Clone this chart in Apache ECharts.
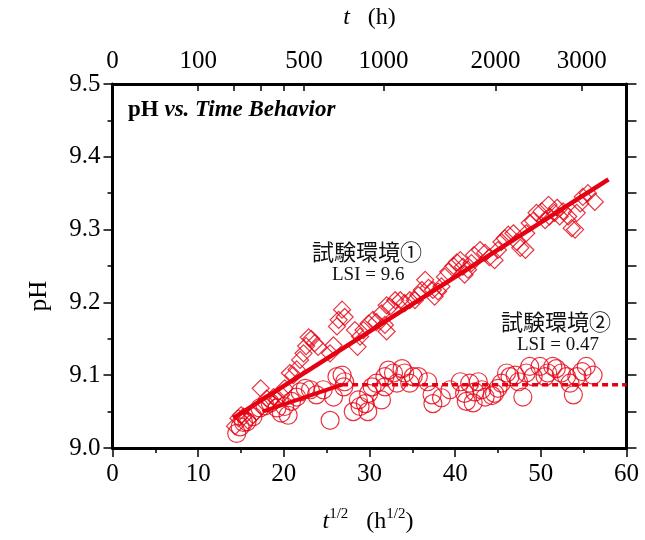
<!DOCTYPE html>
<html>
<head>
<meta charset="utf-8">
<script src="https://cdn.jsdelivr.net/npm/echarts@6/dist/echarts.min.js"></script>
<style>
  html, body { margin: 0; padding: 0; background: #ffffff; }
  #chart { width: 645px; height: 540px; }
</style>
</head>
<body>
<div id="chart"></div>
<script>
// pH readings against square root of elapsed time (h^1/2)
// Test environment 1 (LSI = 9.6), open diamonds
const env1Points = [
  [14.3, 9.030], [14.7, 9.041], [15.0, 9.045], [15.3, 9.043], [15.8, 9.038],
  [16.4, 9.045], [16.8, 9.050], [17.3, 9.082], [18.0, 9.068], [18.4, 9.064],
  [18.8, 9.070], [19.2, 9.066], [19.7, 9.073], [20.1, 9.082], [20.7, 9.103],
  [21.1, 9.100], [21.5, 9.108], [21.9, 9.121], [22.3, 9.130], [22.6, 9.140],
  [22.9, 9.152], [23.2, 9.150], [23.6, 9.144], [24.0, 9.139], [25.4, 9.130],
  [25.8, 9.141], [26.2, 9.167], [26.4, 9.176], [26.8, 9.190], [27.1, 9.180],
  [28.3, 9.162], [28.6, 9.139], [28.9, 9.153], [29.3, 9.162], [29.9, 9.171],
  [30.4, 9.176], [30.8, 9.173], [31.4, 9.185], [31.8, 9.169], [32.0, 9.160],
  [32.0, 9.196], [32.4, 9.194], [33.0, 9.203], [33.6, 9.203], [34.1, 9.199],
  [34.7, 9.203], [35.3, 9.203], [35.7, 9.210], [36.1, 9.217], [36.5, 9.231],
  [36.9, 9.220], [37.4, 9.217], [37.6, 9.208], [38.0, 9.215], [38.4, 9.222],
  [38.8, 9.235], [39.2, 9.242], [39.8, 9.250], [40.2, 9.255], [40.6, 9.258],
  [40.9, 9.249], [41.1, 9.238], [41.5, 9.245], [41.9, 9.254], [42.2, 9.265],
  [42.9, 9.272], [43.5, 9.268], [44.0, 9.262], [44.6, 9.258], [45.0, 9.272],
  [45.4, 9.283], [45.8, 9.288], [46.2, 9.293], [46.8, 9.295], [47.2, 9.283],
  [47.6, 9.275], [48.2, 9.272], [48.3, 9.295], [48.7, 9.309], [49.1, 9.312],
  [49.5, 9.323], [50.1, 9.325], [50.5, 9.313], [50.9, 9.334], [51.0, 9.318],
  [51.6, 9.323], [51.9, 9.330], [52.2, 9.318], [52.6, 9.325], [53.2, 9.318],
  [53.6, 9.302], [54.0, 9.300], [54.2, 9.323], [54.6, 9.336], [54.9, 9.345],
  [55.5, 9.350], [56.3, 9.338]
];

// Test environment 2 (LSI = 0.47), open circles
const env2Points = [
  [14.5, 9.020], [14.9, 9.029], [15.3, 9.035], [15.7, 9.036], [16.4, 9.043],
  [17.2, 9.055], [17.8, 9.058], [18.4, 9.062], [19.2, 9.055], [19.7, 9.048],
  [20.1, 9.057], [20.5, 9.045], [20.9, 9.064], [21.5, 9.070], [21.9, 9.077],
  [22.5, 9.082], [23.1, 9.080], [23.8, 9.073], [24.6, 9.080], [25.4, 9.038],
  [25.8, 9.070], [26.2, 9.098], [26.8, 9.100], [27.0, 9.084], [27.1, 9.091],
  [28.1, 9.050], [28.7, 9.066], [28.9, 9.057], [29.5, 9.061], [29.8, 9.050],
  [29.9, 9.075], [30.3, 9.084], [30.8, 9.089], [31.4, 9.066], [31.8, 9.098],
  [31.8, 9.084], [32.2, 9.107], [32.8, 9.103], [33.2, 9.089], [33.8, 9.109],
  [34.1, 9.103], [34.7, 9.089], [35.1, 9.098], [35.7, 9.098], [36.8, 9.091],
  [37.3, 9.073], [37.4, 9.061], [38.4, 9.069], [39.4, 9.080], [40.6, 9.091],
  [41.1, 9.075], [41.3, 9.064], [41.7, 9.089], [42.1, 9.062], [42.3, 9.077],
  [42.7, 9.091], [43.1, 9.080], [43.5, 9.070], [44.3, 9.072], [44.6, 9.075],
  [45.0, 9.082], [45.4, 9.089], [46.0, 9.103], [46.4, 9.098], [47.0, 9.100],
  [47.4, 9.091], [47.9, 9.070], [48.3, 9.103], [48.7, 9.112], [49.1, 9.098],
  [49.9, 9.112], [50.5, 9.098], [50.8, 9.103], [51.4, 9.112], [51.8, 9.109],
  [52.4, 9.103], [53.0, 9.098], [53.4, 9.089], [53.8, 9.073], [54.2, 9.098],
  [54.8, 9.105], [55.3, 9.112], [56.1, 9.100]
];

// Trend lines
const env1Trend = [[14.1, 9.041], [57.9, 9.369]];
const env2TrendRise = [[17.5, 9.050], [22.5, 9.070], [26.8, 9.087]];
const env2TrendFlat = [[26.8, 9.087], [60.0, 9.087]];

// Top axis: elapsed hours, placed at sqrt(t)
const topTickHours = [0, 100, 200, 300, 400, 500, 1000, 2000, 3000];
const topLabelHours = [0, 100, 500, 1000, 2000, 3000];

const RED = '#e50012';
const INK = '#000000';
const SERIF = '"Liberation Serif", "Times New Roman", serif';
const CJK = '"Noto Sans CJK JP", "Noto Sans CJK SC", sans-serif';

const chart = echarts.init(document.getElementById('chart'), null, { renderer: 'canvas' });

const tickLabel = { color: INK, fontFamily: SERIF, fontSize: 25 };

chart.setOption({
  animation: false,
  backgroundColor: '#ffffff',
  grid: {
    left: 112.5, right: 18.5, top: 84, bottom: 92,
    containLabel: false, outerBoundsMode: 'none'
  },
  xAxis: [
    {
      type: 'value', position: 'bottom', min: 0, max: 60, interval: 10,
      axisLine: { show: true, onZero: false, lineStyle: { color: INK, width: 3 } },
      axisTick: { show: true, inside: false, length: 9, lineStyle: { color: INK, width: 1.5 } },
      minorTick: { show: true, splitNumber: 2, length: 5, lineStyle: { color: INK, width: 1.5 } },
      axisLabel: Object.assign({ margin: 14 }, tickLabel),
      splitLine: { show: false }, minorSplitLine: { show: false }
    },
    {
      type: 'value', position: 'top', min: 0, max: 60,
      axisLine: { show: true, onZero: false, lineStyle: { color: INK, width: 3 } },
      axisTick: {
        show: true, inside: true, length: 7,
        customValues: topTickHours.map(Math.sqrt),
        lineStyle: { color: INK, width: 1.5 }
      },
      axisLabel: Object.assign({
        margin: 10,
        customValues: topLabelHours.map(Math.sqrt),
        formatter: v => String(Math.round(v * v))
      }, tickLabel),
      splitLine: { show: false }
    }
  ],
  yAxis: [
    {
      type: 'value', position: 'left', min: 9.0, max: 9.5, interval: 0.1,
      axisLine: { show: true, onZero: false, lineStyle: { color: INK, width: 3 } },
      axisTick: { show: true, inside: false, length: 9, lineStyle: { color: INK, width: 1.5 } },
      minorTick: { show: true, splitNumber: 2, length: 5, lineStyle: { color: INK, width: 1.5 } },
      axisLabel: Object.assign({ margin: 12, formatter: v => v.toFixed(1) }, tickLabel),
      splitLine: { show: false }, minorSplitLine: { show: false }
    },
    {
      type: 'value', position: 'right', min: 9.0, max: 9.5, interval: 0.05,
      axisLine: { show: true, onZero: false, lineStyle: { color: INK, width: 3 } },
      axisTick: { show: true, inside: false, length: 10, lineStyle: { color: INK, width: 1.5 } },
      axisLabel: { show: false },
      splitLine: { show: false }
    }
  ],
  series: [
    {
      name: 'env2', type: 'scatter', data: env2Points,
      symbol: 'circle', symbolSize: 18, z: 2,
      itemStyle: { color: 'rgba(0,0,0,0)', borderColor: RED, borderWidth: 1.2 }
    },
    {
      name: 'env1', type: 'scatter', data: env1Points,
      symbol: 'diamond', symbolSize: [17, 17], z: 2,
      itemStyle: { color: 'rgba(0,0,0,0)', borderColor: RED, borderWidth: 1.2 }
    },
    {
      name: 'env1Trend', type: 'line', data: env1Trend, showSymbol: false, symbol: 'none', z: 3,
      lineStyle: { color: RED, width: 4.5 }
    },
    {
      name: 'env2TrendRise', type: 'line', data: env2TrendRise, showSymbol: false, symbol: 'none', z: 3,
      smooth: true, lineStyle: { color: RED, width: 4 }
    },
    {
      name: 'env2TrendFlat', type: 'line', data: env2TrendFlat, showSymbol: false, symbol: 'none', z: 3,
      lineStyle: { color: RED, width: 3.5, type: [6, 4] }
    }
  ],
  graphic: [
    {
      type: 'text', left: 128, top: 99,
      style: {
        text: '{b|pH }{bi|vs. Time Behavior}',
        rich: {
          b: { fontFamily: SERIF, fontSize: 23, fontWeight: 'bold', fill: INK },
          bi: { fontFamily: SERIF, fontSize: 23, fontWeight: 'bold', fontStyle: 'italic', fill: INK }
        }
      }
    },
    {
      type: 'text', x: 369.5, y: 18,
      style: {
        text: '{i|t}{n|   (h)}', textAlign: 'center', textVerticalAlign: 'middle',
        rich: {
          i: { fontFamily: SERIF, fontSize: 24, fontStyle: 'italic', fill: INK },
          n: { fontFamily: SERIF, fontSize: 24, fill: INK }
        }
      }
    },
    {
      type: 'text', x: 368, y: 522,
      style: {
        text: '{i|t}{s|1/2}{n|   (h}{s|1/2}{n|)}', textAlign: 'center', textVerticalAlign: 'middle',
        rich: {
          i: { fontFamily: SERIF, fontSize: 24, fontStyle: 'italic', fill: INK, lineHeight: 30 },
          n: { fontFamily: SERIF, fontSize: 24, fill: INK, lineHeight: 30 },
          s: { fontFamily: SERIF, fontSize: 15, fill: INK, verticalAlign: 'top', lineHeight: 18 }
        }
      }
    },
    {
      type: 'text', x: 39, y: 296, rotation: Math.PI / 2,
      style: {
        text: 'pH', textAlign: 'center', textVerticalAlign: 'middle',
        fontFamily: SERIF, fontSize: 25, fill: INK
      }
    },
    {
      type: 'text', x: 312, y: 252,
      style: { text: '試験環境①', textVerticalAlign: 'middle', fontFamily: CJK, fontSize: 22, fill: '#111111' }
    },
    {
      type: 'text', x: 332, y: 275,
      style: { text: 'LSI = 9.6', textVerticalAlign: 'middle', fontFamily: SERIF, fontSize: 19, fill: '#111111' }
    },
    {
      type: 'text', x: 501, y: 322,
      style: { text: '試験環境②', textVerticalAlign: 'middle', fontFamily: CJK, fontSize: 22, fill: '#111111' }
    },
    {
      type: 'text', x: 517, y: 345,
      style: { text: 'LSI = 0.47', textVerticalAlign: 'middle', fontFamily: SERIF, fontSize: 19, fill: '#111111' }
    }
  ]
});
</script>
</body>
</html>
